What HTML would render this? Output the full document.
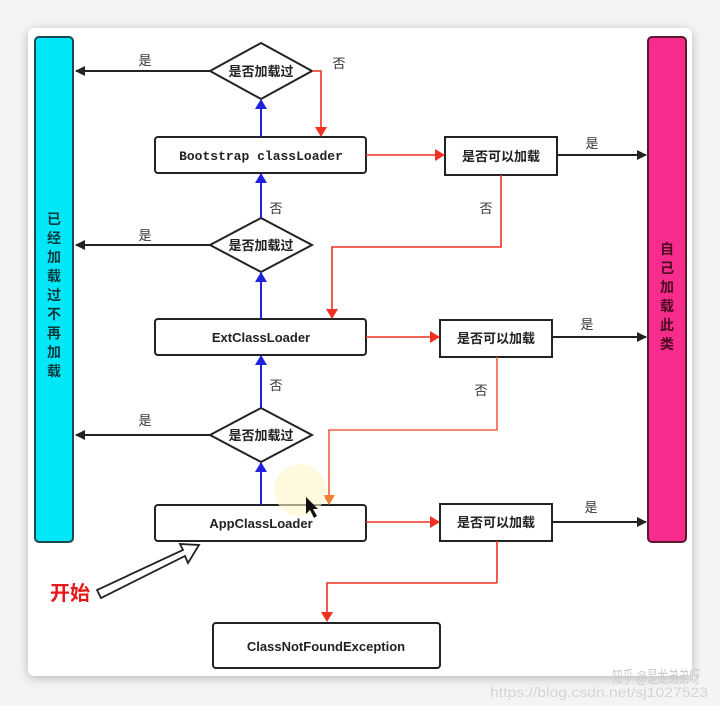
<!DOCTYPE html>
<html><head><meta charset="utf-8"><style>
body{margin:0;background:#f4f4f4;}
svg{display:block}
text{font-family:"Liberation Sans","Noto Sans CJK SC",sans-serif;}
</style></head><body>
<svg width="720" height="706" viewBox="0 0 720 706" xmlns="http://www.w3.org/2000/svg">
<defs>
<filter id="sh" x="-5%" y="-5%" width="110%" height="110%"><feGaussianBlur stdDeviation="5"/></filter>
<marker id="ak" markerWidth="10" markerHeight="10" refX="9" refY="5" orient="auto" markerUnits="userSpaceOnUse"><path d="M0,0 L10,5 L0,10 z" fill="#222"/></marker>
<marker id="ar" markerWidth="10" markerHeight="12" refX="9" refY="6" orient="auto" markerUnits="userSpaceOnUse"><path d="M0,0 L10,6 L0,12 z" fill="#f03020"/></marker>
<marker id="ao" markerWidth="10" markerHeight="12" refX="9" refY="6" orient="auto" markerUnits="userSpaceOnUse"><path d="M0,0 L10,6 L0,12 z" fill="#f08030"/></marker>
<marker id="ab" markerWidth="10" markerHeight="12" refX="9" refY="6" orient="auto" markerUnits="userSpaceOnUse"><path d="M0,0 L10,6 L0,12 z" fill="#2020e0"/></marker>
</defs>
<rect x="28" y="30" width="664" height="648" rx="6" fill="#000" opacity="0.25" filter="url(#sh)"/>
<rect x="28" y="28" width="664" height="648" rx="6" fill="#fff"/>
<rect x="35" y="37" width="38" height="505" rx="4" fill="#00e8f8" stroke="#1a4a50" stroke-width="2"/>
<rect x="648" y="37" width="38" height="505" rx="4" fill="#f82c8c" stroke="#5a1a30" stroke-width="2"/>
<g font-size="14" font-weight="bold" fill="#0a3a40" text-anchor="middle">
<text x="54" y="224">已</text><text x="54" y="243">经</text><text x="54" y="262">加</text><text x="54" y="281">载</text><text x="54" y="300">过</text><text x="54" y="319">不</text><text x="54" y="338">再</text><text x="54" y="357">加</text><text x="54" y="376">载</text>
</g>
<g font-size="14" font-weight="bold" fill="#4a0a20" text-anchor="middle">
<text x="667" y="254">自</text><text x="667" y="273">己</text><text x="667" y="292">加</text><text x="667" y="311">载</text><text x="667" y="330">此</text><text x="667" y="349">类</text>
</g>
<g fill="#fff" stroke="#222" stroke-width="2">
<polygon points="261,43 312,71 261,99 210,71"/>
<polygon points="261,218 312,245 261,272 210,245"/>
<polygon points="261,408 312,435 261,462 210,435"/>
<rect x="155" y="137" width="211" height="36" rx="3"/>
<rect x="155" y="319" width="211" height="36" rx="3"/>
<rect x="155" y="505" width="211" height="36" rx="3"/>
<rect x="445" y="137" width="112" height="38"/>
<rect x="440" y="320" width="112" height="37"/>
<rect x="440" y="504" width="112" height="37"/>
<rect x="213" y="623" width="227" height="45" rx="3"/>
</g>
<g font-size="13" font-weight="bold" fill="#222" text-anchor="middle">
<text x="261" y="76">是否加载过</text><text x="261" y="250">是否加载过</text><text x="261" y="440">是否加载过</text>
<text x="501" y="161">是否可以加载</text><text x="496" y="343">是否可以加载</text><text x="496" y="527">是否可以加载</text>
<text x="261" y="160" style="font-family:'Liberation Mono',monospace">Bootstrap classLoader</text>
<text x="261" y="342">ExtClassLoader</text>
<text x="261" y="528">AppClassLoader</text>
<text x="326" y="651">ClassNotFoundException</text>
</g>
<g stroke="#222" stroke-width="2" fill="none" marker-end="url(#ak)">
<line x1="210" y1="71" x2="76" y2="71"/><line x1="210" y1="245" x2="76" y2="245"/><line x1="210" y1="435" x2="76" y2="435"/>
<line x1="557" y1="155" x2="646" y2="155"/><line x1="552" y1="337" x2="646" y2="337"/><line x1="552" y1="522" x2="646" y2="522"/>
</g>
<g stroke="#2020e0" stroke-width="2" fill="none" marker-end="url(#ab)">
<line x1="261" y1="137" x2="261" y2="100"/><line x1="261" y1="218" x2="261" y2="174"/><line x1="261" y1="319" x2="261" y2="273"/><line x1="261" y1="408" x2="261" y2="356"/><line x1="261" y1="505" x2="261" y2="463"/>
</g>
<g stroke="#f03020" stroke-width="1.6" fill="none" marker-end="url(#ar)">
<polyline points="312,71 321,71 321,136"/>
<line x1="366" y1="155" x2="444" y2="155"/><line x1="366" y1="337" x2="439" y2="337"/><line x1="366" y1="522" x2="439" y2="522"/>
<polyline points="501,175 501,247 332,247 332,318"/>
<polyline points="497,583 327,583 327,621"/>
</g>
<polyline points="497,541 497,583" stroke="#f03020" stroke-width="1.6" fill="none"/>
<polyline points="497,357 497,430 329,430 329,504" stroke="#f06040" stroke-width="1.6" fill="none" marker-end="url(#ao)"/>
<circle cx="300" cy="490" r="26" fill="#fff6c8" opacity="0.6"/>
<path d="M306,497 L306,514 L310,510 L314,518 L317,516 L313,509 L318,509 z" fill="#111"/>
<g font-size="13" fill="#333" text-anchor="middle">
<text x="145" y="65">是</text><text x="145" y="240">是</text><text x="145" y="425">是</text>
<text x="339" y="68">否</text><text x="592" y="148">是</text><text x="587" y="329">是</text><text x="591" y="512">是</text>
<text x="276" y="213">否</text><text x="486" y="213">否</text><text x="276" y="390">否</text><text x="481" y="395">否</text>
</g>
<text x="50" y="600" font-size="20" font-weight="bold" fill="#e81818">开始</text>
<polygon points="97,590 101,598 185,556 188,563 199,545 180,544 183,550" fill="#fff" stroke="#222" stroke-width="1.8"/>
<text x="612" y="683" font-size="17" fill="#ccc" textLength="88" lengthAdjust="spacingAndGlyphs">知乎 @是龙弟弟呀</text>
<text x="490" y="697" font-size="14" fill="#d4d4d4" textLength="218" lengthAdjust="spacingAndGlyphs">https://blog.csdn.net/sj1027523</text>
</svg>
</body></html>
